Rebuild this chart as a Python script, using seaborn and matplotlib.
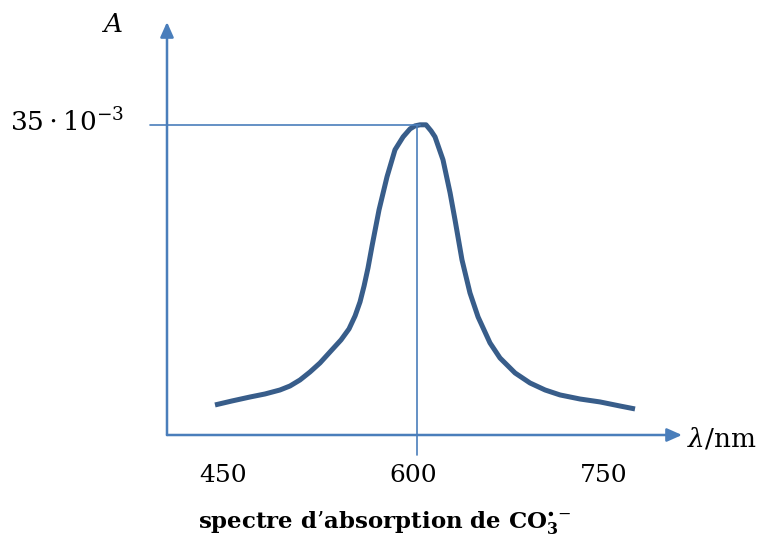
import matplotlib
matplotlib.use("Agg")
import matplotlib.pyplot as plt
import seaborn as sns
import pandas as pd

# absorption spectrum of CO3.- (A in 1e-3)
wavelength = [440.5, 453.9, 468.2, 480.0, 491.8, 499.7, 507.6, 515.5, 523.4,
              531.3, 540.0, 546.3, 551.1, 555.0, 558.2, 561.3, 564.5, 570.0,
              576.3, 582.6, 589.0, 594.5, 598.4, 602.4, 607.1, 611.1, 614.2,
              620.5, 626.1, 630.0, 635.5, 641.8, 648.2, 657.6, 665.5, 677.4,
              689.2, 701.1, 712.9, 728.7, 744.5, 760.3, 772.1]
absorbance = [3.39, 3.84, 4.29, 4.63, 5.08, 5.53, 6.21, 7.11, 8.13,
              9.37, 10.73, 11.97, 13.44, 15.02, 16.82, 18.85, 21.34, 25.40,
              29.13, 32.18, 33.64, 34.54, 34.88, 35.0, 35.0, 34.31, 33.64,
              31.05, 27.32, 24.27, 19.76, 16.03, 13.32, 10.39, 8.69, 7.00,
              5.87, 5.08, 4.52, 4.06, 3.73, 3.27, 2.94]
tick_values = [450, 600, 750]
peak_nm = 600
peak_a = 35

df = pd.DataFrame({"nm": wavelength, "A": absorbance})

sns.set_style("white")
plt.rcParams["font.family"] = ["DejaVu Serif"]
plt.rcParams["mathtext.fontset"] = "dejavuserif"
plt.rcParams["text.color"] = "black"

axis_col = "#4a7ebb"
curve_col = "#385d8a"

fig = plt.figure(figsize=(7.63, 5.38), dpi=100)
ax = fig.add_axes([167 / 763, 103 / 538, 515 / 763, 413 / 538])
x0, x1 = 402.6, 809.2
y0, y1 = 0, 46.6
ax.set_xlim(x0, x1)
ax.set_ylim(y0, y1)
ax.axis("off")

sns.lineplot(data=df, x="nm", y="A", ax=ax, color=curve_col, lw=3.6,
             solid_capstyle="butt", solid_joinstyle="round")

# axes with arrow heads
arrow = dict(arrowstyle="-|>,head_length=0.9,head_width=0.4", color=axis_col,
             lw=1.8, shrinkA=0, shrinkB=0)
ax.annotate("", xy=(x0, y1), xytext=(x0, y0), arrowprops=arrow,
            annotation_clip=False)
ax.annotate("", xy=(x1, y0), xytext=(x0, y0), arrowprops=arrow,
            annotation_clip=False)

# guide lines to the maximum
ax.plot([389, 602.4], [peak_a, peak_a], color=axis_col, lw=1.2, clip_on=False)
ax.plot([peak_nm, peak_nm], [-2.3, peak_a], color=axis_col, lw=1.2, clip_on=False)

for t in tick_values:
    ax.text(t - 3, -4.6, str(t), ha="center", va="center", fontsize=18)

ax.text(359, 46.3, r"$A$", ha="center", va="center", fontsize=19)
ax.text(324, peak_a + 0.3, r"$35\cdot10^{-3}$", ha="center", va="center",
        fontsize=19)
ax.text(813, -0.4, r"$\lambda/\mathrm{nm}$", ha="left", va="center",
        fontsize=19)

fig.text(385 / 763, 1 - 522 / 538,
         r"spectre d’absorption de CO$_\mathbf{3}^{\bullet-}$",
         ha="center", va="center", fontsize=16.5, fontweight="bold")

fig.savefig("out.png", dpi=100)
